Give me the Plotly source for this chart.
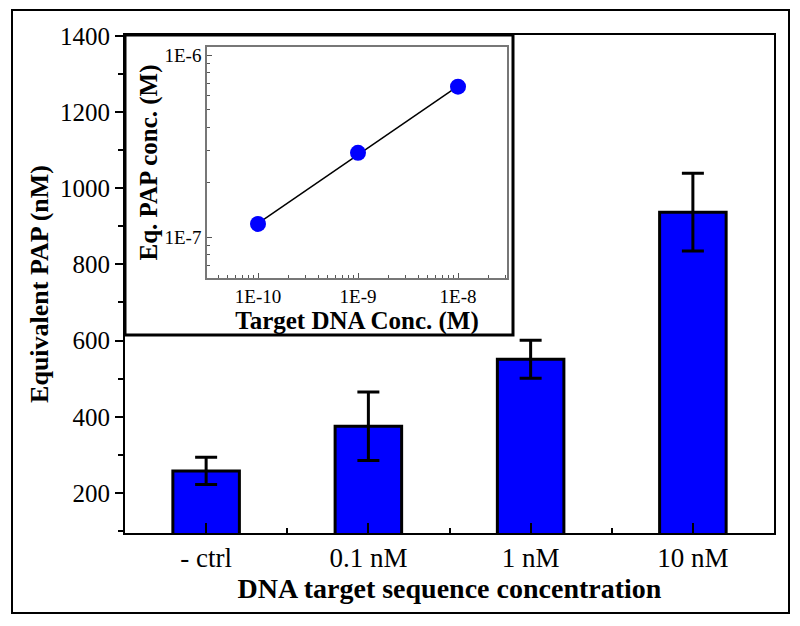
import plotly.graph_objects as go

# Main bar chart data
categories = ["- ctrl", "0.1 nM", "1 nM", "10 nM"]
pap_nM = [258, 375, 551, 937]
pap_err = [36, 90, 50, 102]
y_ticks = [200, 400, 600, 800, 1000, 1200, 1400]

# Inset data (log-log)
target_M = [1e-10, 1e-9, 1e-8]
eq_pap_M = [1.18e-7, 2.9e-7, 6.7e-7]
fit_x = [1e-10, 1e-8]
fit_y = [1.19e-7, 6.75e-7]
inset_x_ticks = [1e-10, 1e-9, 1e-8]
inset_x_text = ["1E-10", "1E-9", "1E-8"]
inset_y_ticks = [1e-7, 1e-6]
inset_y_text = ["1E-7", "1E-6"]

FONT = "Liberation Serif"
OFF = 8  # page body margin of the html page
W, H = 800 - OFF, 626 - OFF
# plot area in screen pixels: x 125..774, y 35..533
L, T = 125 - OFF, 35 - OFF
R = W - (774 - OFF)
B = H - (533 - OFF)
PW, PH = W - L - R, H - T - B


def px_to_paper_x(px):
    return (px - OFF - L) / PW


def px_to_paper_y(py):
    return (H - B - (py - OFF)) / PH


fig = go.Figure()

fig.add_trace(go.Bar(
    x=list(range(len(categories))), y=pap_nM,
    width=0.41,
    marker=dict(color="#0000FF", line=dict(color="black", width=3)),
    error_y=dict(type="data", array=pap_err, visible=True,
                 color="black", thickness=3, width=11),
    xaxis="x", yaxis="y", showlegend=False,
))

fig.add_trace(go.Scatter(
    x=fit_x, y=fit_y, mode="lines",
    line=dict(color="black", width=1.5),
    xaxis="x2", yaxis="y2", showlegend=False,
))
fig.add_trace(go.Scatter(
    x=target_M, y=eq_pap_M, mode="markers",
    marker=dict(color="#0000FF", size=16),
    xaxis="x2", yaxis="y2", showlegend=False,
))

inset_x0, inset_x1 = px_to_paper_x(207), px_to_paper_x(507)
inset_y0, inset_y1 = px_to_paper_y(278), px_to_paper_y(47)

fig.update_layout(
    width=W, height=H,
    margin=dict(l=L, r=R, t=T, b=B, autoexpand=False),
    paper_bgcolor="white", plot_bgcolor="white",
    font=dict(family=FONT, color="black"),
    xaxis=dict(
        range=[-0.5, 3.5], automargin=False,
        tickmode="array", tickvals=list(range(len(categories))), ticktext=categories,
        ticks="inside", ticklen=10, tickwidth=2, tickcolor="black",
        minor=dict(tickmode="array", tickvals=[0.5, 1.5, 2.5], ticks="inside",
                   ticklen=5, tickwidth=2, tickcolor="black"),
        showline=True, linecolor="black", linewidth=2, mirror=True,
        showgrid=False, zeroline=False,
        tickfont=dict(size=27, family=FONT),
        title=dict(text="<b>DNA target sequence concentration</b>",
                   font=dict(size=28, family=FONT), standoff=4),
    ),
    yaxis=dict(
        range=[95, 1402], automargin=False,
        tickmode="array", tickvals=y_ticks,
        ticks="outside", ticklen=8, tickwidth=2, tickcolor="black",
        minor=dict(dtick=100, tick0=0, ticks="outside", ticklen=5,
                   tickwidth=2, tickcolor="black"),
        showline=True, linecolor="black", linewidth=2, mirror=True,
        showgrid=False, zeroline=False,
        tickfont=dict(size=25, family=FONT),
        title=dict(text="<b>Equivalent PAP (nM)</b>",
                   font=dict(size=26, family=FONT), standoff=4),
    ),
    xaxis2=dict(
        type="log", domain=[inset_x0, inset_x1], anchor="y2",
        range=[-10.51, -7.51], automargin=False,
        tickmode="array", tickvals=inset_x_ticks, ticktext=inset_x_text,
        ticks="inside", ticklen=5, tickwidth=1, tickcolor="#555",
        minor=dict(dtick="D1", ticks="inside", ticklen=3, tickwidth=1,
                   tickcolor="#555"),
        showline=True, linecolor="#777", linewidth=1.5, mirror=True,
        showgrid=False, zeroline=False,
        tickfont=dict(size=19, family=FONT),
        title=dict(text="<b>Target DNA Conc. (M)</b>",
                   font=dict(size=25, family=FONT), standoff=0),
    ),
    yaxis2=dict(
        type="log", domain=[inset_y0, inset_y1], anchor="x2",
        range=[-7.225, -5.956], automargin=False,
        tickmode="array", tickvals=inset_y_ticks, ticktext=inset_y_text,
        ticks="inside", ticklen=5, tickwidth=1, tickcolor="#555",
        minor=dict(dtick="D1", ticks="inside", ticklen=3, tickwidth=1,
                   tickcolor="#555"),
        showline=True, linecolor="#777", linewidth=1.5, mirror=True,
        showgrid=False, zeroline=False,
        tickfont=dict(size=19, family=FONT),
        title=dict(text="<b>Eq. PAP conc. (M)</b>",
                   font=dict(size=25, family=FONT), standoff=0),
    ),
    shapes=[
        # inset box
        dict(type="rect", xref="paper", yref="paper",
             x0=0, x1=px_to_paper_x(513), y0=px_to_paper_y(335), y1=1,
             fillcolor="white", line=dict(color="black", width=3), layer="below"),
        # outer frame
        dict(type="rect", xref="paper", yref="paper",
             x0=px_to_paper_x(12), x1=px_to_paper_x(789),
             y0=px_to_paper_y(613), y1=px_to_paper_y(10),
             fillcolor="rgba(0,0,0,0)", line=dict(color="black", width=2),
             layer="above"),
    ],
)

fig.write_html("out.html")
